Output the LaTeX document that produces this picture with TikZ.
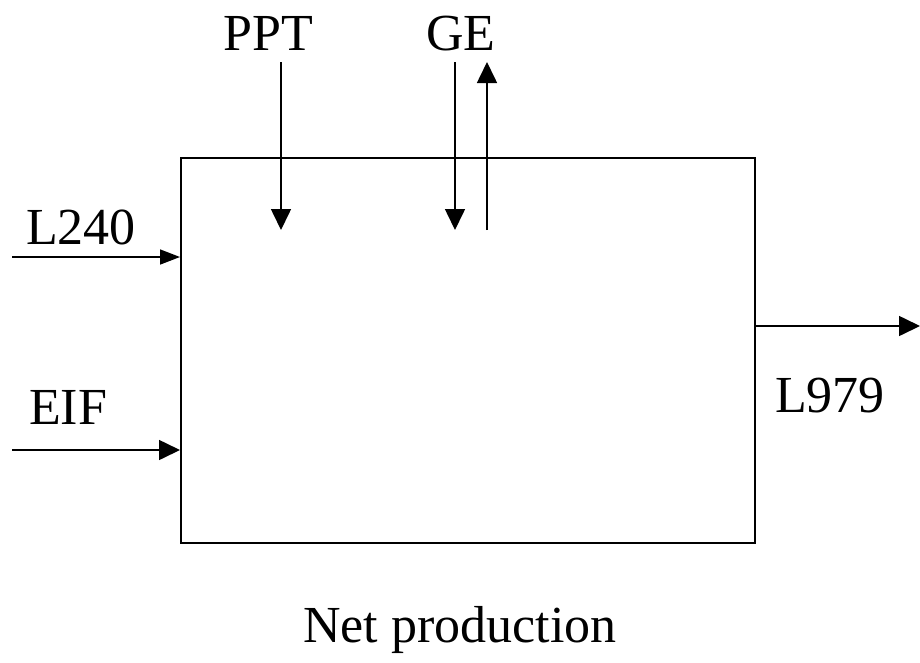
\documentclass[tikz,border=0pt]{standalone}
\usepackage{fontspec}
\setmainfont{Liberation Serif}
\usetikzlibrary{arrows.meta}
\begin{document}
\begin{tikzpicture}[x=1pt,y=-1pt,
  conn/.style={line width=1.6pt,-{Triangle[length=21pt,width=20pt]}},
  connsm/.style={line width=1.6pt,-{Triangle[length=20pt,width=15pt]}},
  lbl/.style={font=\fontsize{52}{60}\selectfont,anchor=base,inner sep=0pt}]
\useasboundingbox (0,0) rectangle (920,662);
\node[draw,line width=1.6pt,minimum width=574pt,minimum height=385pt,inner sep=0pt,anchor=north west] (box) at (180,157) {};
% labels
\node[lbl] (ppt) at (268,50) {PPT};
\node[lbl] (ge) at (461,50) {GE};
\node[lbl] (l240) at (81,244) {L240};
\node[lbl] (eif) at (68,424) {EIF};
\node[lbl] (l979) at (830,412) {L979};
\node[lbl] (np) at (460,642) {Net production};
% coordinates
\coordinate (pptA) at (281,62);
\coordinate (pptB) at (281,230);
\coordinate (geA) at (455,62);
\coordinate (geB) at (455,230);
\coordinate (geC) at (487,230);
\coordinate (geD) at (487,62);
\coordinate (l240A) at (12,257);
\coordinate (eifA) at (12,450);
\coordinate (l979B) at (920,326);
% connectors
\draw[conn] (pptA) -- (pptB);
\draw[conn] (geA) -- (geB);
\draw[conn] (geC) -- (geD);
\draw[connsm] (l240A) -- (l240A -| box.west);
\draw[conn] (eifA) -- (eifA -| box.west);
\draw[conn] (l979B -| box.east) -- (l979B);
\end{tikzpicture}
\end{document}
